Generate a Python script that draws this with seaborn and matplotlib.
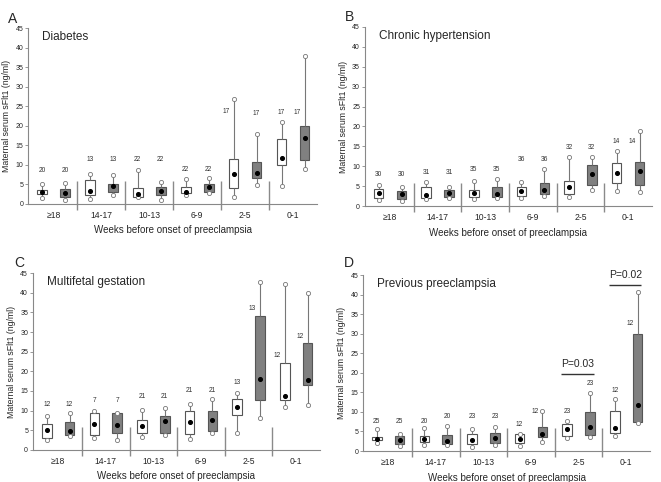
import numpy as np
import pandas as pd
import matplotlib
matplotlib.use('Agg')
import matplotlib.pyplot as plt
import seaborn as sns

# ============================================
# 数据 (从图中读取: lo, q1, median, q3, hi)
# ============================================
groups = ['≥18', '14-17', '10-13', '6-9', '2-5', '0-1']
y_ticks = list(range(0, 50, 5))

# A: Diabetes
A_white = [[1.6, 2.6, 3.1, 3.6, 5.1], [1.4, 2.2, 3.2, 6.1, 7.7], [1.7, 1.9, 2.6, 4.2, 8.8],
           [2.2, 2.7, 3.0, 4.3, 6.5], [1.8, 4.2, 7.6, 11.5, 26.9], [4.5, 10.0, 11.8, 16.5, 21.0]]
A_gray = [[1.0, 1.8, 2.8, 3.8, 5.4], [2.2, 3.0, 4.7, 5.1, 7.5], [1.1, 2.2, 3.4, 4.3, 5.6],
          [2.7, 3.0, 4.3, 5.1, 6.6], [4.9, 6.7, 7.8, 10.7, 17.8], [8.9, 11.3, 16.9, 19.9, 37.8]]
A_n = [20, 13, 22, 22, 17, 17]
A_white_ny = [8.5, 11.5, 11.5, 8.9, 23.6, 23.4]
A_gray_ny = [8.5, 11.5, 11.5, 8.9, 23.2, 23.4]

# B: Chronic hypertension
B_white = [[1.6, 1.9, 3.3, 4.3, 5.2], [1.7, 2.0, 2.7, 4.7, 6.1], [1.8, 2.3, 3.3, 4.0, 6.4],
           [1.9, 2.4, 3.8, 4.9, 6.1], [2.3, 3.0, 4.7, 6.4, 12.3], [3.7, 5.7, 8.3, 10.9, 13.9]]
B_gray = [[1.3, 1.7, 3.1, 3.7, 4.9], [1.9, 2.3, 3.2, 4.1, 4.8], [2.1, 2.3, 3.1, 4.8, 6.7],
          [2.4, 2.9, 3.9, 5.8, 9.4], [4.0, 5.2, 8.1, 10.2, 12.2], [3.6, 5.3, 8.7, 11.1, 18.8]]
B_n = [30, 31, 35, 36, 32, 14]
B_white_ny = [7.9, 8.3, 9.2, 11.7, 14.7, 16.1]
B_gray_ny = [7.9, 8.3, 9.2, 11.7, 14.7, 16.1]

# C: Multifetal gestation
C_white = [[2.5, 3.1, 5.0, 6.5, 8.7], [3.1, 3.8, 6.6, 9.5, 9.8], [3.3, 4.4, 6.2, 7.6, 10.1],
           [2.8, 4.1, 7.1, 10.0, 11.7], [4.2, 8.9, 10.9, 13.0, 14.5], [11.0, 12.7, 13.7, 22.1, 42.2]]
C_gray = [[3.6, 3.9, 4.8, 7.0, 9.3], [2.5, 4.2, 6.3, 9.3, 9.5], [3.7, 4.4, 7.3, 8.7, 10.6],
          [4.4, 4.8, 7.7, 9.9, 12.9], [8.1, 12.8, 18.1, 34.0, 42.7], [11.5, 16.5, 17.7, 27.2, 39.9]]
C_n = [12, 7, 21, 21, 13, 12]
C_white_ny = [11.6, 12.6, 13.6, 15.2, 17.1, 23.9]
C_gray_ny = [11.6, 12.6, 13.6, 15.2, 36.1, 28.9]

# D: Previous preeclampsia
D_white = [[2.0, 2.7, 3.1, 3.6, 5.6], [1.5, 2.3, 3.1, 3.9, 5.8], [1.0, 1.8, 2.7, 4.4, 5.5],
           [1.2, 2.1, 3.0, 4.3, 4.4], [3.4, 3.8, 5.5, 6.8, 7.7], [3.8, 4.5, 6.0, 10.3, 13.4]]
D_gray = [[1.4, 1.8, 2.7, 3.8, 4.3], [1.5, 1.7, 2.6, 4.0, 6.5], [1.6, 2.1, 3.2, 4.6, 6.2],
          [2.4, 3.6, 4.3, 6.2, 10.2], [3.5, 4.1, 6.1, 10.1, 14.8], [7.1, 7.3, 11.7, 30.0, 40.7]]
D_n = [25, 20, 23, 12, 23, 12]
D_white_ny = [7.5, 7.5, 8.8, 6.8, 10.1, 15.6]
D_gray_ny = [7.5, 8.8, 8.8, 10.0, 17.2, 32.5]
D_pvals = ['P=0.03', 'P=0.02']
D_p_groups = [4, 5]
D_p_y = [19.6, 42.4]

panels = [
    ('A', 'Diabetes', A_white, A_gray, A_n, A_white_ny, A_gray_ny, [0.0424, 0.5768, 0.4372, 0.3651]),
    ('B', 'Chronic hypertension', B_white, B_gray, B_n, B_white_ny, B_gray_ny, [0.552, 0.5726, 0.4342, 0.3714]),
    ('C', 'Multifetal gestation', C_white, C_gray, C_n, C_white_ny, C_gray_ny, [0.0499, 0.0664, 0.4342, 0.3672]),
    ('D', 'Previous preeclampsia', D_white, D_gray, D_n, D_white_ny, D_gray_ny, [0.5492, 0.0643, 0.4342, 0.3651]),
]
letter_pos = {'A': (0.012, 0.975), 'B': (0.522, 0.98), 'C': (0.022, 0.468), 'D': (0.52, 0.468)}

sns.set_style('ticks')
plt.rcParams['font.family'] = ['Liberation Sans', 'DejaVu Sans']

OFF = 0.24
EDGE = '#555555'
WHISK = '#777777'


def long_df(white, gray):
    rows = []
    for g, w, k in zip(groups, white, gray):
        for v in w:
            rows.append({'group': g, 'series': 'w', 'value': v})
        for v in k:
            rows.append({'group': g, 'series': 'g', 'value': v})
    return pd.DataFrame(rows)


def draw_panel(fig, letter, title, white, gray, n, wny, gny, rect):
    ax = fig.add_axes(rect)
    df = long_df(white, gray)
    sns.boxplot(data=df, x='group', y='value', hue='series', order=groups, hue_order=['w', 'g'],
                palette={'w': 'white', 'g': '#808080'}, whis=(0, 100), showfliers=False,
                width=0.96, gap=0.58, linewidth=0.8, linecolor=EDGE, showcaps=False,
                medianprops={'visible': False},
                whiskerprops={'color': WHISK, 'linewidth': 0.8},
                legend=False, ax=ax)

    xpos = np.arange(len(groups))
    for off, data, ny in [(-OFF, white, wny), (OFF, gray, gny)]:
        arr = np.array(data)
        xs = xpos + off
        # 端点圆圈
        ax.scatter(np.r_[xs, xs], np.r_[arr[:, 0], arr[:, 4]], s=9, facecolor='white',
                   edgecolor=WHISK, linewidth=0.6, zorder=4)
        # 中位数点
        ax.scatter(xs, arr[:, 2], s=7, color='black', zorder=5)
        for x, y, c, hi in zip(xs, ny, n, arr[:, 4]):
            # 标签落在须线上时往左挪
            dx = -0.16 if y < hi else 0
            ax.text(x + dx, y, str(c), ha='center', va='center', fontsize=4.8, color='#333333')

    # 分隔线
    ax.vlines(xpos[:-1] + 0.5, -1.6, 5.8, color='#8a8a8a', linewidth=1, clip_on=False)

    ax.set_xlim(-0.53, 5.5)
    ax.set_ylim(0, 45)
    ax.set_yticks(y_ticks)
    ax.tick_params(axis='y', labelsize=5, length=2, width=0.6, color='#888888', pad=1.5)
    ax.tick_params(axis='x', labelsize=6.2, length=0, pad=5)
    for s in ['top', 'right']:
        ax.spines[s].set_visible(False)
    for s in ['left', 'bottom']:
        ax.spines[s].set_color('#888888')
        ax.spines[s].set_linewidth(0.8)
    ax.set_xlabel('Weeks before onset of preeclampsia', fontsize=7, labelpad=4)
    ax.set_ylabel('Maternal serum sFlt1 (ng/ml)', fontsize=6.3, labelpad=3)
    ax.text(0.048, 0.95, title, transform=ax.transAxes, fontsize=8.5, va='center', ha='left')
    fig.text(letter_pos[letter][0], letter_pos[letter][1], letter, fontsize=10, va='top', ha='left')
    return ax


fig = plt.figure(figsize=(6.61, 4.82), dpi=100)
axes = {}
for p in panels:
    axes[p[0]] = draw_panel(fig, *p)

# D 面板的 P 值
axD = axes['D']
for txt, g, y in zip(D_pvals, D_p_groups, D_p_y):
    axD.hlines(y, g - 0.36, g + 0.32, color='#333333', linewidth=1, clip_on=False)
    axD.text(g - 0.02, y + 1.3, txt, ha='center', va='bottom', fontsize=7.5, clip_on=False)

fig.savefig('out.png', dpi=100)
